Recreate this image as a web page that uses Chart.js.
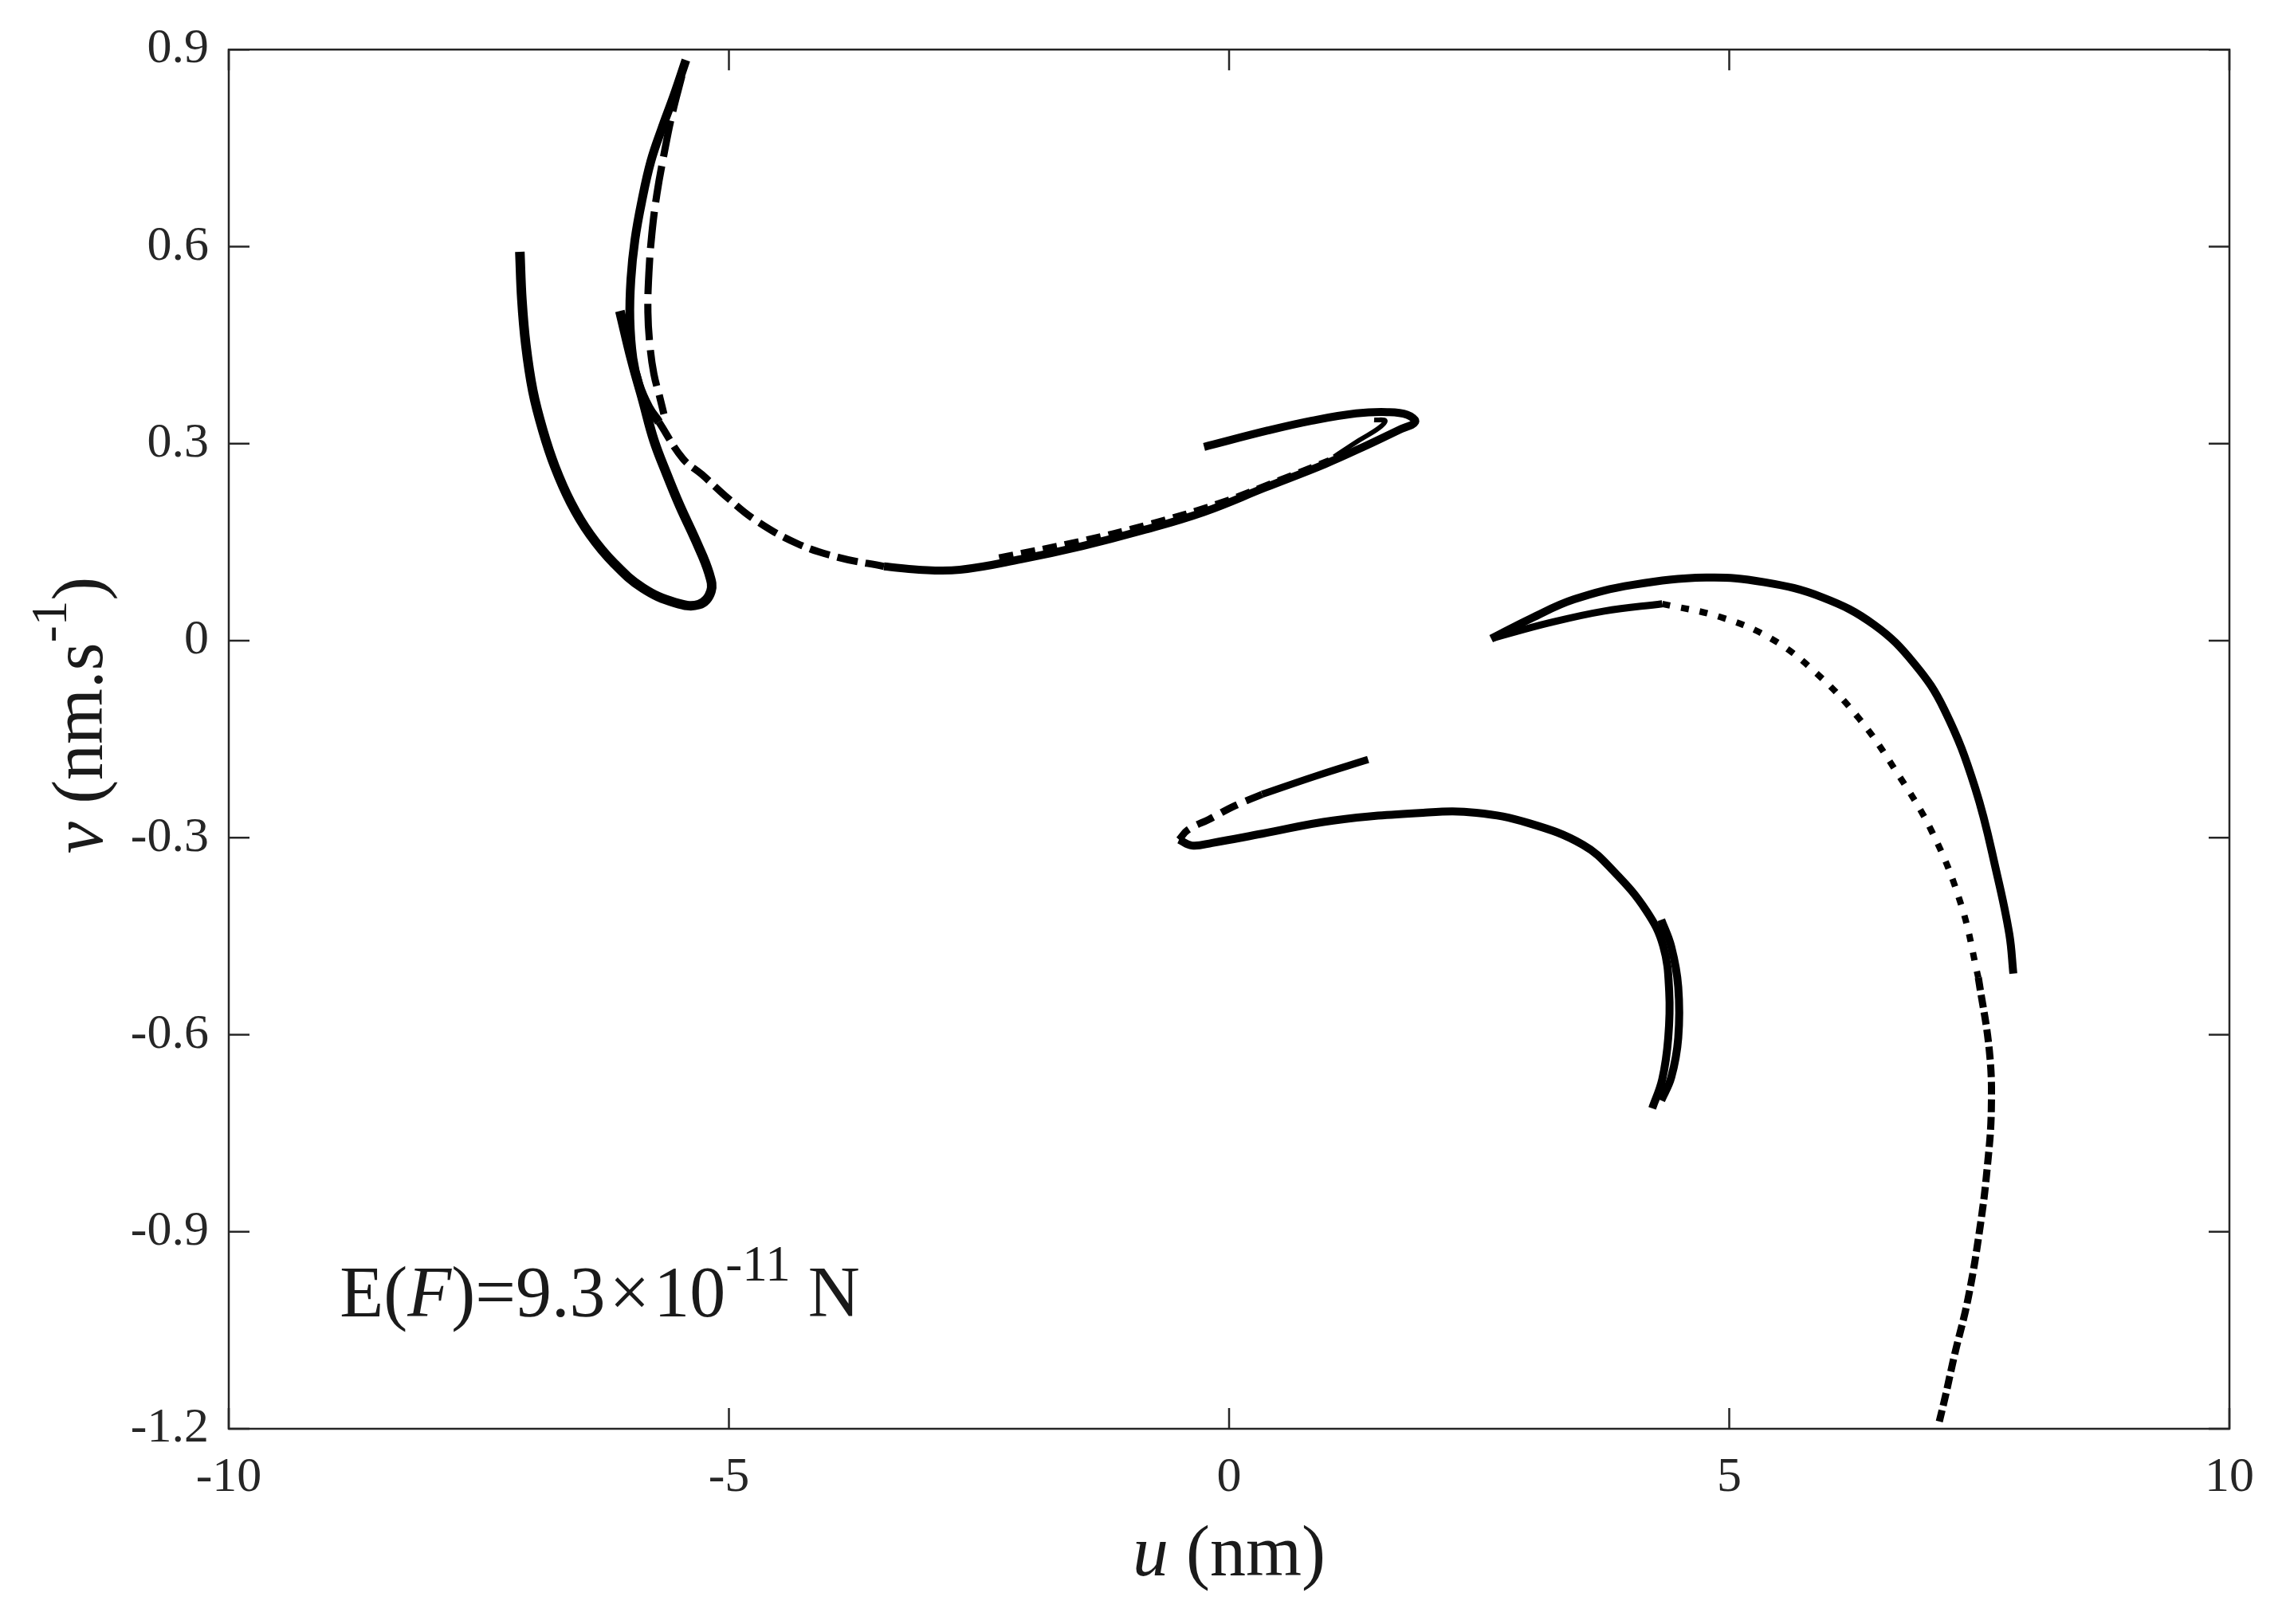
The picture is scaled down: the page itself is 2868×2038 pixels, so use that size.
<!DOCTYPE html>
<html>
<head>
<meta charset="utf-8">
<script src="https://cdn.jsdelivr.net/npm/chart.js@4.4.1/dist/chart.umd.min.js"></script>
<style>
html, body { margin: 0; padding: 0; background: #ffffff; }
#wrap { width: 2868px; height: 2038px; }
</style>
</head>
<body>
<div id="wrap"><canvas id="c" width="2868" height="2038"></canvas></div>
<script>
// ---------- axis ticks ----------
const xTicks = [-10, -5, 0, 5, 10];
const xTickLabels = ['-10', '-5', '0', '5', '10'];
const yTicks = [-1.2, -0.9, -0.6, -0.3, 0, 0.3, 0.6, 0.9];
const yTickLabels = ['-1.2', '-0.9', '-0.6', '-0.3', '0', '0.3', '0.6', '0.9'];

// ---------- curve A : left "U" hook ----------
const hookA_u = [-7.09, -7.07, -7.03, -6.96, -6.86, -6.74, -6.58, -6.39, -6.15, -5.86, -5.54, -5.30, -5.18, -5.20, -5.33, -5.49, -5.62, -5.75, -5.86, -5.97, -6.09];
const hookA_v = [0.592, 0.520, 0.450, 0.380, 0.320, 0.265, 0.210, 0.162, 0.118, 0.080, 0.058, 0.055, 0.075, 0.103, 0.152, 0.205, 0.253, 0.305, 0.366, 0.426, 0.502];

// ---------- curve B : upper long arc ----------
const arcB1_u = [-5.43, -5.55, -5.67, -5.78, -5.87, -5.94, -5.98, -5.99, -5.96, -5.90, -5.80, -5.70];
const arcB1_v = [0.884, 0.830, 0.780, 0.730, 0.670, 0.610, 0.550, 0.490, 0.430, 0.390, 0.355, 0.333];
const arcB2_u = [-5.47, -5.57, -5.65, -5.72, -5.77, -5.80, -5.81, -5.79, -5.75, -5.69, -5.65];
const arcB2_v = [0.860, 0.800, 0.740, 0.680, 0.620, 0.560, 0.500, 0.450, 0.406, 0.370, 0.345];
const arcB3_u = [-5.70, -5.46, -5.27, -5.01, -4.74, -4.32, -3.91, -3.45];
const arcB3_v = [0.333, 0.277, 0.253, 0.217, 0.184, 0.148, 0.127, 0.113];
const arcB4_u = [-3.45, -3.10, -2.69, -2.08, -1.47, -0.86, -0.25, 0.36, 0.96, 1.37, 1.70, 1.86, 1.78, 1.58, 1.27, 0.83, 0.39, -0.25];
const arcB4_v = [0.113, 0.108, 0.108, 0.124, 0.144, 0.168, 0.196, 0.233, 0.269, 0.297, 0.321, 0.333, 0.344, 0.348, 0.346, 0.335, 0.320, 0.295];
const arcB5_u = [-2.30, -1.50, -0.80, -0.10, 0.50, 1.00];
const arcB5_v = [0.127, 0.152, 0.178, 0.210, 0.245, 0.275];
const arcB6_u = [1.05, 1.30, 1.50, 1.56, 1.45];
const arcB6_v = [0.280, 0.305, 0.324, 0.335, 0.336];

// ---------- curve C : middle lower hook ----------
const hookC1_u = [1.39, 0.87, 0.33];
const hookC1_v = [-0.181, -0.206, -0.234];
const hookC2_u = [0.33, 0.05, -0.20, -0.41, -0.50];
const hookC2_v = [-0.234, -0.252, -0.272, -0.288, -0.303];
const hookC3_u = [-0.50, -0.37, -0.17, 0.33, 1.04, 1.94, 2.47, 3.00, 3.54, 3.85, 4.17, 4.34, 4.40, 4.39, 4.33, 4.23];
const hookC3_v = [-0.303, -0.312, -0.308, -0.294, -0.274, -0.262, -0.262, -0.278, -0.311, -0.352, -0.411, -0.465, -0.535, -0.605, -0.668, -0.712];
const hookC4_u = [4.32, 4.42, 4.49, 4.49, 4.42, 4.32];
const hookC4_v = [-0.425, -0.466, -0.527, -0.605, -0.665, -0.700];

// ---------- curve D : right large arc ----------
const arcD1_u = [2.62, 3.02, 3.45, 4.04, 4.77, 5.35, 5.93, 6.45, 6.85, 7.15, 7.46, 7.68, 7.80, 7.84];
const arcD1_v = [0.003, 0.034, 0.063, 0.085, 0.096, 0.089, 0.066, 0.024, -0.035, -0.105, -0.225, -0.358, -0.447, -0.507];
const arcD2_u = [2.64, 3.20, 3.75, 4.33];
const arcD2_v = [0.004, 0.027, 0.045, 0.056];
const arcD3_u = [4.33, 4.91, 5.42, 5.86, 6.30, 6.66, 7.03, 7.32, 7.49];
const arcD3_v = [0.056, 0.036, 0.003, -0.048, -0.119, -0.197, -0.292, -0.403, -0.513];
const arcD4_u = [7.49, 7.60, 7.62, 7.58, 7.51, 7.39, 7.25, 7.16, 7.10];
const arcD4_v = [-0.513, -0.624, -0.713, -0.801, -0.890, -1.000, -1.089, -1.151, -1.189];

// ---------- annotation ----------
const noteAnchor = { u: -8.89, v: -1.029 };

function pts(us, vs) { return us.map((u, i) => ({ x: u, y: vs[i] })); }

function strand(us, vs, width, dash) {
  return {
    data: pts(us, vs),
    showLine: true,
    borderColor: '#000000',
    backgroundColor: '#000000',
    borderWidth: width,
    borderDash: dash || [],
    borderCapStyle: 'butt',
    borderJoinStyle: 'round',
    pointRadius: 0,
    pointHoverRadius: 0,
    tension: 0.4,
    fill: false
  };
}

const datasets = [
  strand(hookA_u, hookA_v, 12),
  strand(arcB1_u, arcB1_v, 11),
  strand(arcB2_u, arcB2_v, 9, [46, 12]),
  strand(arcB3_u, arcB3_v, 9, [26, 10]),
  strand(arcB4_u, arcB4_v, 10),
  strand(arcB5_u, arcB5_v, 7, [18, 10]),
  strand(arcB6_u, arcB6_v, 6),
  strand(hookC1_u, hookC1_v, 9),
  strand(hookC2_u, hookC2_v, 9, [22, 12]),
  strand(hookC3_u, hookC3_v, 10),
  strand(hookC4_u, hookC4_v, 10),
  strand(arcD1_u, arcD1_v, 10),
  strand(arcD2_u, arcD2_v, 9),
  strand(arcD3_u, arcD3_v, 8, [10, 14]),
  strand(arcD4_u, arcD4_v, 9, [16, 6])
];

const SERIF = "'Liberation Serif', 'Times New Roman', serif";

function fontFor(p, size) {
  const s = p.sup ? size * 0.7 : size;
  return (p.it ? 'italic ' : '') + s + 'px ' + SERIF;
}
function richWidth(ctx, parts, size) {
  let total = 0;
  parts.forEach(p => {
    ctx.font = fontFor(p, size);
    total += ctx.measureText(p.t).width + (p.gap || 0) + (p.pre || 0);
  });
  return total;
}
function drawRich(ctx, parts, x, y, size) {
  let cx = x;
  parts.forEach(p => {
    ctx.font = fontFor(p, size);
    cx += (p.pre || 0);
    ctx.fillText(p.t, cx, p.sup ? y - size * 0.5 : y);
    cx += ctx.measureText(p.t).width + (p.gap || 0);
  });
}

const framePlugin = {
  id: 'frame',
  afterDraw(chart) {
    const { ctx, chartArea: a, scales: { x, y } } = chart;
    ctx.save();
    ctx.strokeStyle = '#262626';
    ctx.lineWidth = 2.5;
    ctx.strokeRect(a.left, a.top, a.right - a.left, a.bottom - a.top);
    const L = 26;
    ctx.beginPath();
    xTicks.forEach(t => {
      const px = x.getPixelForValue(t);
      ctx.moveTo(px, a.bottom); ctx.lineTo(px, a.bottom - L);
      ctx.moveTo(px, a.top); ctx.lineTo(px, a.top + L);
    });
    yTicks.forEach(t => {
      const py = y.getPixelForValue(t);
      ctx.moveTo(a.left, py); ctx.lineTo(a.left + L, py);
      ctx.moveTo(a.right, py); ctx.lineTo(a.right - L, py);
    });
    ctx.stroke();

    ctx.fillStyle = '#1a1a1a';
    ctx.textBaseline = 'alphabetic';
    ctx.textAlign = 'left';

    // x title
    const xParts = [{ t: 'u', it: true, gap: 22 }, { t: '(nm)' }];
    const xw = richWidth(ctx, xParts, 90);
    const xc = (a.left + a.right) / 2;
    drawRich(ctx, xParts, xc - xw / 2, 1977, 90);

    // y title (rotated)
    const yParts = [{ t: 'v', it: true }, { t: ' (nm.s' }, { t: '-1', sup: true }, { t: ')' }];
    const yw = richWidth(ctx, yParts, 90);
    ctx.save();
    ctx.translate(128, (a.top + a.bottom) / 2 - 30);
    ctx.rotate(-Math.PI / 2);
    drawRich(ctx, yParts, -yw / 2, 0, 90);
    ctx.restore();

    // annotation
    const nx = x.getPixelForValue(noteAnchor.u);
    const ny = y.getPixelForValue(noteAnchor.v);
    const nParts = [
      { t: 'E(' }, { t: 'F', it: true }, { t: ')=9.3' }, { t: '\u00D7', pre: 5, gap: 5 }, { t: '10' },
      { t: '-11', sup: true, gap: 22 }, { t: 'N' }
    ];
    drawRich(ctx, nParts, nx, ny, 90);
    ctx.restore();
  }
};

new Chart(document.getElementById('c'), {
  type: 'scatter',
  data: { datasets },
  options: {
    responsive: false,
    maintainAspectRatio: false,
    devicePixelRatio: 1,
    animation: false,
    events: [],
    layout: { padding: { top: 59, right: 71, left: 0, bottom: 0 } },
    plugins: { legend: { display: false }, tooltip: { enabled: false }, title: { display: false } },
    scales: {
      x: {
        type: 'linear', position: 'bottom', min: -10, max: 10,
        grid: { display: false, drawTicks: false },
        border: { display: false },
        afterBuildTicks: s => { s.ticks = xTicks.map(v => ({ value: v })); },
        afterFit: s => { s.height = 245; },
        ticks: {
          autoSkip: false, maxRotation: 0, minRotation: 0, padding: 25,
          color: '#262626', font: { family: SERIF, size: 62 },
          callback: (v) => { const i = xTicks.indexOf(v); return i >= 0 ? xTickLabels[i] : ''; }
        }
      },
      y: {
        type: 'linear', position: 'left', min: -1.2, max: 0.9,
        grid: { display: false, drawTicks: false },
        border: { display: false },
        afterBuildTicks: s => { s.ticks = yTicks.map(v => ({ value: v })); },
        afterFit: s => { s.width = 287; },
        ticks: {
          autoSkip: false, padding: 25,
          color: '#262626', font: { family: SERIF, size: 62 },
          callback: (v) => {
            const i = yTicks.findIndex(t => Math.abs(t - v) < 1e-9);
            return i >= 0 ? yTickLabels[i] : '';
          }
        }
      }
    }
  },
  plugins: [framePlugin]
});
</script>
</body>
</html>
